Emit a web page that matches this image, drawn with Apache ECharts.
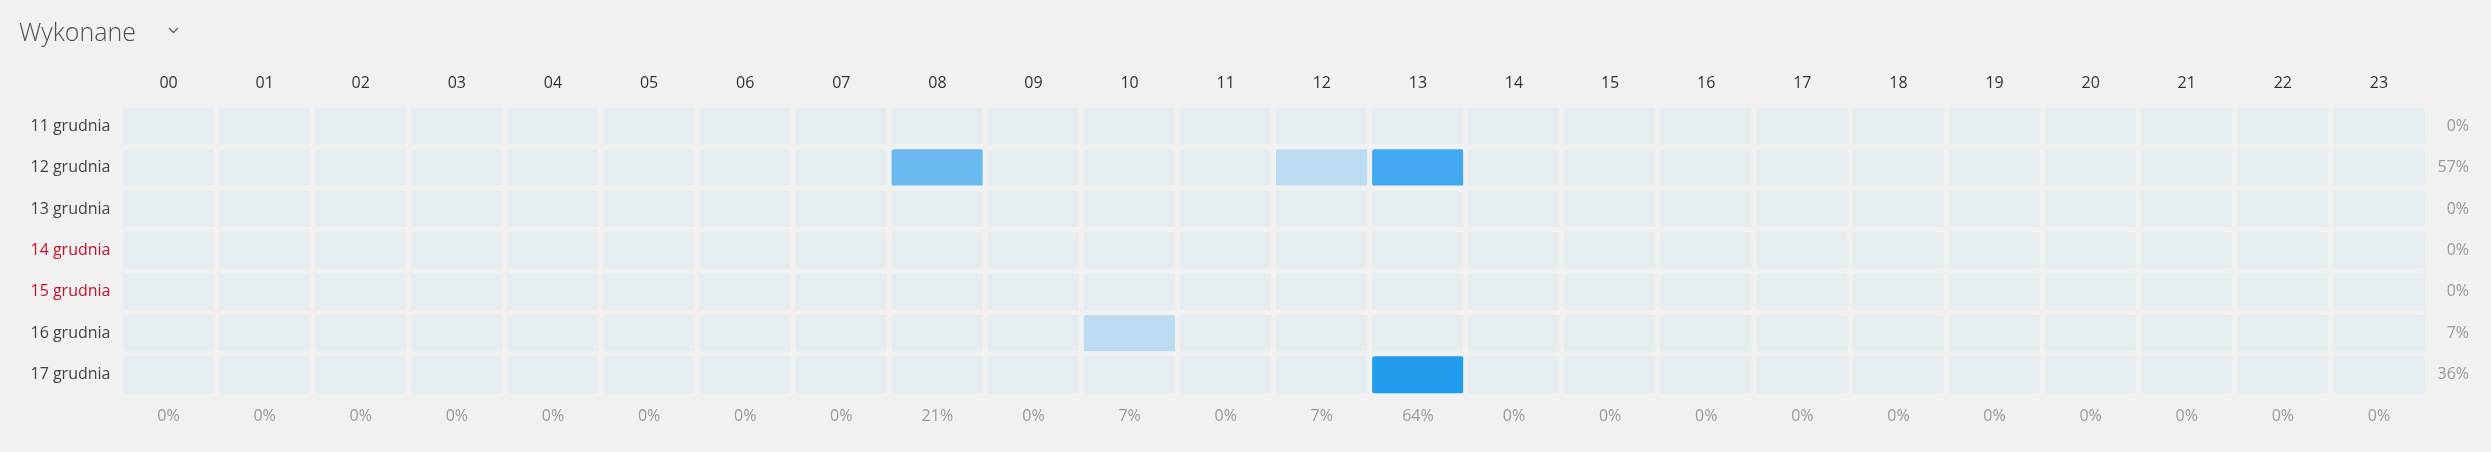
<!DOCTYPE html>
<html>
<head>
<meta charset="utf-8">
<script src="https://cdn.jsdelivr.net/npm/echarts@6/dist/echarts.min.js"></script>
<style>
  html, body { margin: 0; padding: 0; background: #f0f1f0; }
  #chart { width: 2491px; height: 452px; }
</style>
</head>
<body>
<div id="chart"></div>
<script>
// godziny (kolumny)
var hours = ['00', '01', '02', '03', '04', '05', '06', '07', '08', '09', '10', '11',
             '12', '13', '14', '15', '16', '17', '18', '19', '20', '21', '22', '23'];
// dni (wiersze)
var days = ['11 grudnia', '12 grudnia', '13 grudnia', '14 grudnia', '15 grudnia', '16 grudnia', '17 grudnia'];
var weekendDays = ['14 grudnia', '15 grudnia'];

// liczba wykonanych na godzinę, jeden wiersz na dzień
var day11 = [0, 0, 0, 0, 0, 0, 0, 0, 0, 0, 0, 0, 0, 0, 0, 0, 0, 0, 0, 0, 0, 0, 0, 0];
var day12 = [0, 0, 0, 0, 0, 0, 0, 0, 3, 0, 0, 0, 1, 4, 0, 0, 0, 0, 0, 0, 0, 0, 0, 0];
var day13 = [0, 0, 0, 0, 0, 0, 0, 0, 0, 0, 0, 0, 0, 0, 0, 0, 0, 0, 0, 0, 0, 0, 0, 0];
var day14 = [0, 0, 0, 0, 0, 0, 0, 0, 0, 0, 0, 0, 0, 0, 0, 0, 0, 0, 0, 0, 0, 0, 0, 0];
var day15 = [0, 0, 0, 0, 0, 0, 0, 0, 0, 0, 0, 0, 0, 0, 0, 0, 0, 0, 0, 0, 0, 0, 0, 0];
var day16 = [0, 0, 0, 0, 0, 0, 0, 0, 0, 0, 1, 0, 0, 0, 0, 0, 0, 0, 0, 0, 0, 0, 0, 0];
var day17 = [0, 0, 0, 0, 0, 0, 0, 0, 0, 0, 0, 0, 0, 5, 0, 0, 0, 0, 0, 0, 0, 0, 0, 0];

// procenty z prawej (wiersze) i na dole (kolumny)
var rowPct = ['0%', '57%', '0%', '0%', '0%', '7%', '36%'];
var colPct = ['0%', '0%', '0%', '0%', '0%', '0%', '0%', '0%', '21%', '0%', '7%', '0%',
              '7%', '64%', '0%', '0%', '0%', '0%', '0%', '0%', '0%', '0%', '0%', '0%'];

var rows = [day11, day12, day13, day14, day15, day16, day17];
var cells = [];
rows.forEach(function (row, d) {
    row.forEach(function (v, h) {
        cells.push([h, d, v]);
    });
});

var font = '"Open Sans", "Noto Sans", sans-serif';
var bg = '#f0f1f0';

var option = {
    backgroundColor: bg,
    animation: false,
    title: {
        text: 'Wykonane',
        left: 14,
        top: 16,
        textStyle: { fontFamily: font, fontSize: 25, fontWeight: 300, color: '#505050' }
    },
    graphic: [{
        type: 'polyline',
        shape: { points: [[169, 28], [173.5, 32.5], [178, 28]] },
        style: { stroke: '#666', lineWidth: 1.4, fill: null }
    }],
    grid: { left: 120.5, right: 64, top: 105.5, bottom: 56.5 },
    xAxis: [{
        type: 'category',
        position: 'top',
        data: hours,
        axisLine: { show: false },
        axisTick: { show: false },
        splitLine: { show: false },
        axisLabel: { margin: 14, fontFamily: font, fontSize: 16, color: '#333' }
    }, {
        type: 'category',
        position: 'bottom',
        data: colPct,
        axisLine: { show: false },
        axisTick: { show: false },
        axisLabel: { margin: 13, fontFamily: font, fontSize: 16, color: '#9a9a9a' }
    }],
    yAxis: [{
        type: 'category',
        inverse: true,
        data: days,
        axisLine: { show: false },
        axisTick: { show: false },
        splitLine: { show: false },
        axisLabel: {
            margin: 10,
            fontFamily: font,
            fontSize: 16,
            color: function (value) {
                return weekendDays.indexOf(value) >= 0 ? '#c5102c' : '#444';
            }
        }
    }, {
        type: 'category',
        inverse: true,
        position: 'right',
        data: rowPct,
        axisLine: { show: false },
        axisTick: { show: false },
        axisLabel: { margin: 42, align: 'right', fontFamily: font, fontSize: 16, color: '#9a9a9a' }
    }],
    visualMap: {
        show: false,
        type: 'piecewise',
        dimension: 2,
        seriesIndex: 0,
        pieces: [
            { value: 0, color: '#e6edf0' },
            { value: 1, color: '#bcdcf2' },
            { value: 2, color: '#94cbf1' },
            { value: 3, color: '#6ab9f1' },
            { value: 4, color: '#42a9f0' },
            { value: 5, color: '#229dee' }
        ]
    },
    series: [{
        type: 'heatmap',
        xAxisIndex: 0,
        yAxisIndex: 0,
        data: cells,
        itemStyle: { borderColor: bg, borderWidth: 5, borderRadius: 5 },
        emphasis: { disabled: true },
        label: { show: false }
    }]
};

var myChart = echarts.init(document.getElementById('chart'));
myChart.setOption(option);
</script>
</body>
</html>
